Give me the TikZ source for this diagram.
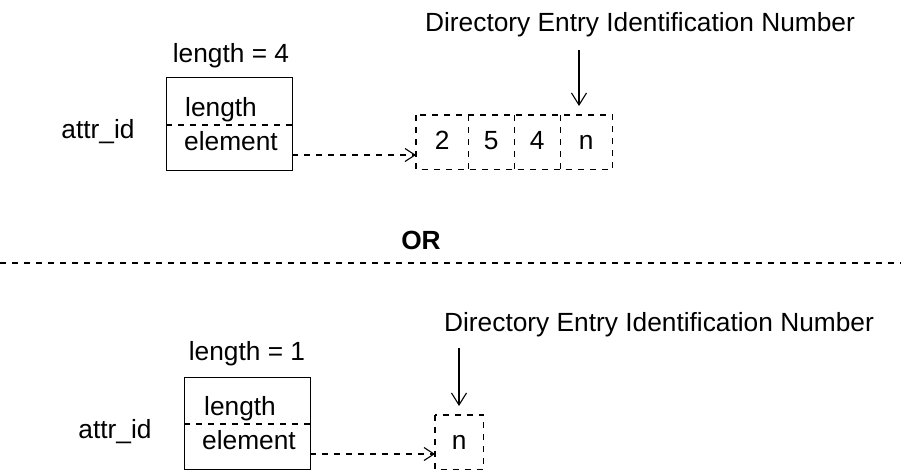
\documentclass[tikz,border=0pt]{standalone}
\usepackage{fontspec}
\setmainfont{Liberation Sans}
\usetikzlibrary{arrows.meta}
\begin{document}
\begin{tikzpicture}[x=1pt,y=-1pt,
  txt/.style={font=\fontsize{26.3}{30}\selectfont, inner sep=0pt, anchor=base},
  recbox/.style={draw, line width=1.2pt, inner sep=0pt, anchor=north west},
  cellbox/.style={inner sep=0pt, anchor=north west, minimum height=54pt,
    text height=15pt, text depth=0pt, font=\fontsize{26.3}{30}\selectfont},
  divider/.style={line width=1.1pt, dash pattern=on 6pt off 6pt},
  ptr/.style={line width=1.1pt, dash pattern=on 6pt off 6pt, -{Straight Barb[length=10pt,width=13pt]}},
  pointer/.style={line width=1.1pt, -{Straight Barb[length=12pt,width=15pt]}}
]
\useasboundingbox (0,0) rectangle (901,469);

% ---- first layout: four-element list ----
\node[txt] (lenA) at (231,62) {length = 4};
\node[recbox, minimum width=126pt, minimum height=93pt] (boxA) at (166,77) {};
\coordinate (divAl) at (166,125);
\coordinate (divAr) at (292,125);
\draw[divider] (divAl) -- (divAr);
\node[txt] (fldAlen) at (221,116) {length};
\node[txt] (fldAel) at (231,150) {element};
\node[txt] (idA) at (98,138) {attr\_id};

\node[cellbox, minimum width=52pt] (a1) at (416,115) {2};
\node[cellbox, minimum width=46pt] (a2) at (468,115) {5};
\node[cellbox, minimum width=46pt] (a3) at (514,115) {4};
\node[cellbox, minimum width=52pt] (a4) at (560,115) {n};
% dashed outline of the list and the separators between its cells
\draw[divider] (a1.north west) rectangle (a4.south east);
\foreach \c in {a1,a2,a3}
  \draw[divider] (\c.north east) -- (\c.south east);

\coordinate (ptrA) at (292,155);
\draw[ptr] (ptrA) -- (a1.west |- ptrA);

\node[txt] (titleA) at (640,31) {Directory Entry Identification Number};
\coordinate (tipA) at (579,50);
\draw[pointer] (tipA) -- (579,106);

% ---- separator ----
\node[txt, font=\bfseries\fontsize{26.3}{30}\selectfont] (orlbl) at (421,249) {OR};
\coordinate (sepL) at (0,263);
\coordinate (sepR) at (901,263);
\draw[divider] (sepL) -- (sepR);

% ---- second layout: single element ----
\node[txt] (lenB) at (247,360) {length = 1};
\node[recbox, minimum width=126pt, minimum height=92pt] (boxB) at (184,377) {};
\coordinate (divBl) at (184,424);
\coordinate (divBr) at (310,424);
\draw[divider] (divBl) -- (divBr);
\node[txt] (fldBlen) at (240,415) {length};
\node[txt] (fldBel) at (249,449) {element};
\node[txt] (idB) at (115,438) {attr\_id};

\node[cellbox, minimum width=48pt] (b1) at (435,415) {n};
\draw[divider] (b1.north west) rectangle (b1.south east);

\coordinate (ptrB) at (310,454);
\draw[ptr] (ptrB) -- (b1.west |- ptrB);

\node[txt] (titleB) at (659,331) {Directory Entry Identification Number};
\coordinate (tipB) at (459,348);
\draw[pointer] (tipB) -- (459,406);
\end{tikzpicture}
\end{document}
